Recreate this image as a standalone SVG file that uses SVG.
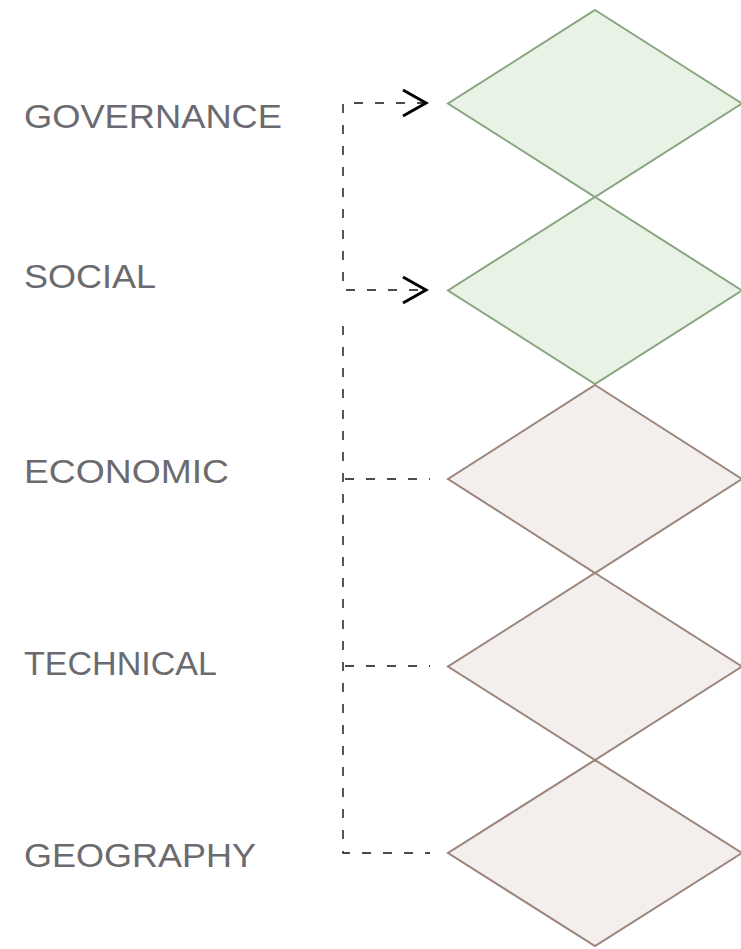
<svg xmlns="http://www.w3.org/2000/svg" width="741" height="949" viewBox="0 0 741 949">
<defs>
<style>
.lbl{font-family:"Liberation Sans","DejaVu Sans",sans-serif;font-size:33px;fill:#6b6b6f;}
.g{fill:#e9f3e5;stroke:#88a480;stroke-width:2;}
.b{fill:#f3efec;stroke:#9b857a;stroke-width:2;}
.c{fill:none;stroke:#111;stroke-width:1.4;stroke-dasharray:9 12;}
</style>
<marker id="chev" viewBox="0 0 28 30" refX="25" refY="15" markerWidth="28" markerHeight="30" markerUnits="userSpaceOnUse" orient="auto-start-reverse">
<path d="M2 2 L25 15 L2 28" fill="none" stroke="#000" stroke-width="3"/>
</marker>
</defs>
<rect width="741" height="949" fill="#fff"/>
<g id="connectors">
<path class="c" d="M426 103 H343 V290 H426" marker-start="url(#chev)" marker-end="url(#chev)"/>
<path class="c" d="M343 326 V853 H430"/>
<path class="c" d="M345 479 H430"/>
<path class="c" d="M345 666 H430"/>
</g>
<g id="node-governance">
<polygon class="g" points="595,10 742,103.5 595,197 448,103.5"/>
<text class="lbl" x="24" y="128" textLength="258" lengthAdjust="spacingAndGlyphs">GOVERNANCE</text>
</g>
<g id="node-social">
<polygon class="g" points="595,197 742,290.5 595,384 448,290.5"/>
<text class="lbl" x="24" y="288" textLength="132" lengthAdjust="spacingAndGlyphs">SOCIAL</text>
</g>
<g id="node-economic">
<polygon class="b" points="595,385 742,479 595,573 448,479"/>
<text class="lbl" x="24" y="483" textLength="205" lengthAdjust="spacingAndGlyphs">ECONOMIC</text>
</g>
<g id="node-technical">
<polygon class="b" points="595,573 742,666.5 595,760 448,666.5"/>
<text class="lbl" x="24" y="675" textLength="193" lengthAdjust="spacingAndGlyphs">TECHNICAL</text>
</g>
<g id="node-geography">
<polygon class="b" points="595,760 742,853 595,946 448,853"/>
<text class="lbl" x="24" y="867" textLength="232" lengthAdjust="spacingAndGlyphs">GEOGRAPHY</text>
</g>
</svg>
